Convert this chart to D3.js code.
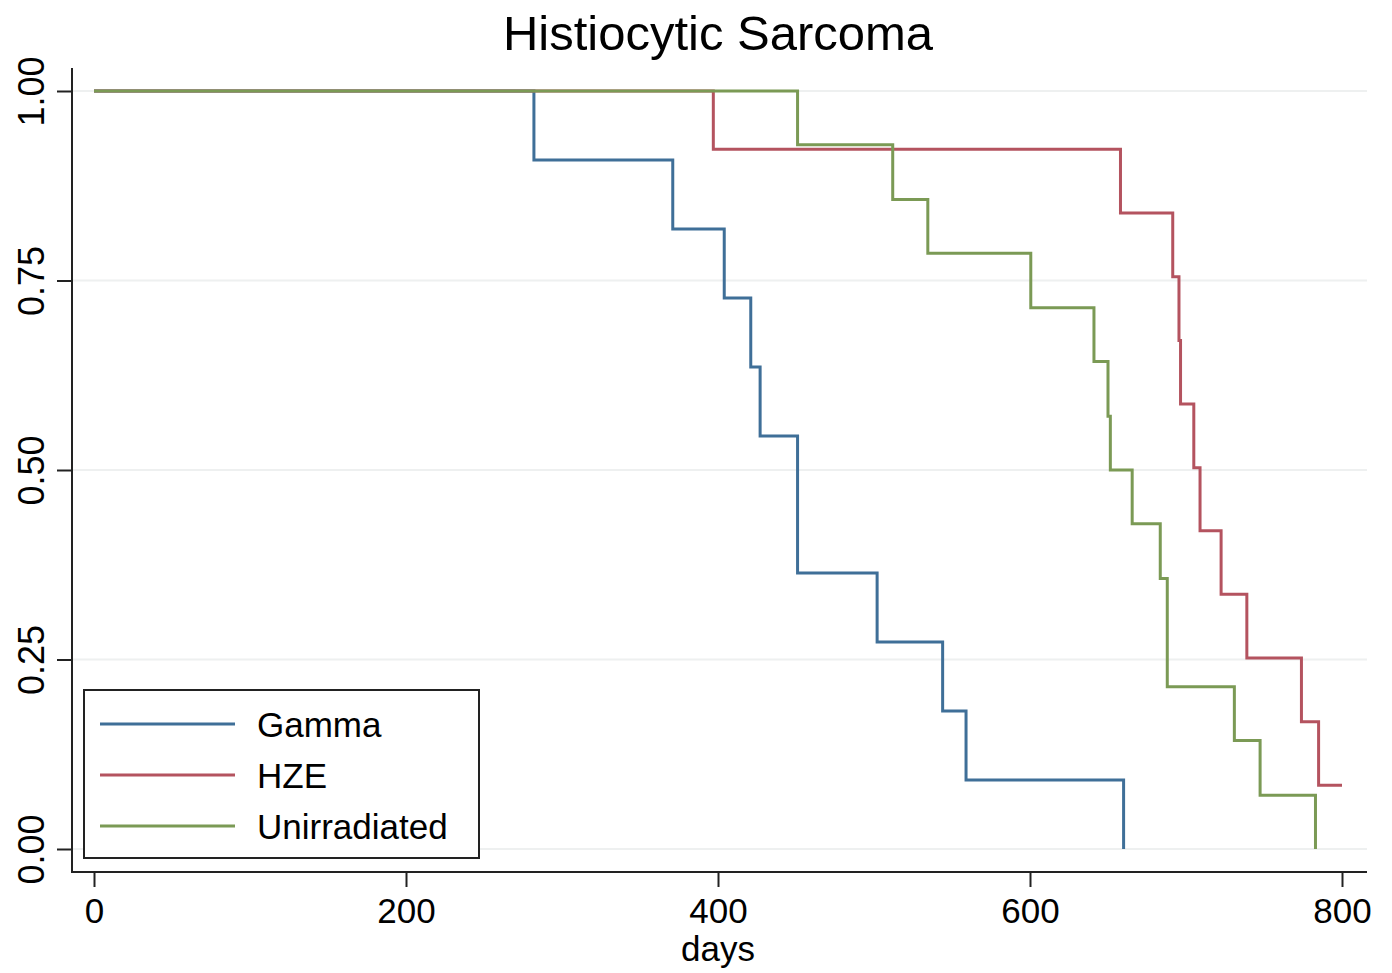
<!DOCTYPE html>
<html>
<head>
<meta charset="utf-8">
<script src="https://cdn.jsdelivr.net/npm/d3@7"></script>
<style>
  body { margin: 0; background: #fff; }
  svg text { font-family: "Liberation Sans", Arial, Helvetica, sans-serif; fill: #000; }
</style>
</head>
<body>
<div id="chart"></div>
<script>
// Kaplan-Meier step values (days, survival)
const gammaDays = [0, 282, 371, 404, 421, 427, 451, 502, 544, 559, 660];
const gammaSurv = [1, 0.909, 0.818, 0.727, 0.636, 0.545, 0.364, 0.273, 0.182, 0.091, 0];

const hzeDays = [0, 397, 658, 691.5, 695.5, 696.5, 705, 709, 722.5, 739, 774, 785, 800];
const hzeSurv = [1, 0.923, 0.839, 0.755, 0.671, 0.587, 0.503, 0.420, 0.336, 0.252, 0.168, 0.084, 0.084];

const unirrDays = [0, 451, 512, 534.5, 600.5, 641, 650, 651.5, 665.5, 683.5, 688, 731, 747.5, 783];
const unirrSurv = [1, 0.929, 0.857, 0.786, 0.714, 0.643, 0.571, 0.5, 0.429, 0.357, 0.214, 0.143, 0.071, 0];

const seriesNames = ['Gamma', 'HZE', 'Unirradiated'];
const seriesColors = ['#3f6f98', '#b4535f', '#7b9a55'];

const xTicks = [0, 200, 400, 600, 800];
const yTicks = [0, 0.25, 0.5, 0.75, 1];

const width = 1392, height = 973;

const series = [
  gammaDays.map((d, i) => [d, gammaSurv[i]]),
  hzeDays.map((d, i) => [d, hzeSurv[i]]),
  unirrDays.map((d, i) => [d, unirrSurv[i]])
];

const x = d3.scaleLinear().domain([0, 800]).range([94, 1342]);
const y = d3.scaleLinear().domain([0, 1]).range([849, 91]);

const axisX = 72, axisY = 872;

const svg = d3.select('#chart').append('svg')
  .attr('width', width)
  .attr('height', height);

// light horizontal grid
svg.append('g')
  .selectAll('line')
  .data(yTicks)
  .enter()
  .append('line')
  .attr('x1', axisX)
  .attr('x2', 1367)
  .attr('y1', d => y(d))
  .attr('y2', d => y(d))
  .attr('stroke', '#eef0f0')
  .attr('stroke-width', 2);

// survival curves
const line = d3.line()
  .x(d => x(d[0]))
  .y(d => y(d[1]))
  .curve(d3.curveStepAfter);

svg.append('g')
  .selectAll('path')
  .data(series)
  .enter()
  .append('path')
  .attr('d', line)
  .attr('fill', 'none')
  .attr('stroke', (d, i) => seriesColors[i])
  .attr('stroke-width', 3);

// axes
const yAxis = d3.axisLeft(y).tickValues(yTicks).tickSize(15).tickFormat(d3.format('.2f'));
const xAxis = d3.axisBottom(x).tickValues(xTicks).tickSize(15).tickFormat(d => d.toString());

const gy = svg.append('g')
  .attr('transform', `translate(${axisX},0)`)
  .call(yAxis);
gy.select('.domain').remove();
gy.selectAll('.tick line').attr('stroke', '#222').attr('stroke-width', 2);
gy.selectAll('.tick text')
  .attr('x', null).attr('dy', null)
  .attr('transform', 'translate(-28,0) rotate(-90)')
  .attr('text-anchor', 'middle')
  .style('font-size', '36px');

const gx = svg.append('g')
  .attr('transform', `translate(0,${axisY})`)
  .call(xAxis);
gx.select('.domain').remove();
gx.selectAll('.tick line').attr('stroke', '#222').attr('stroke-width', 2);
gx.selectAll('.tick text')
  .attr('y', 51).attr('dy', null)
  .style('font-size', '35px');

svg.append('line')
  .attr('x1', axisX).attr('x2', axisX)
  .attr('y1', 68).attr('y2', axisY + 1)
  .attr('stroke', '#222').attr('stroke-width', 2);
svg.append('line')
  .attr('x1', axisX - 1).attr('x2', 1367)
  .attr('y1', axisY).attr('y2', axisY)
  .attr('stroke', '#222').attr('stroke-width', 2);

// titles
svg.append('text')
  .attr('x', 718).attr('y', 50)
  .attr('text-anchor', 'middle')
  .style('font-size', '49px')
  .text('Histiocytic Sarcoma');

svg.append('text')
  .attr('x', 718).attr('y', 961)
  .attr('text-anchor', 'middle')
  .style('font-size', '35px')
  .text('days');

// legend
const legend = svg.append('g');
legend.append('rect')
  .attr('x', 84).attr('y', 690)
  .attr('width', 395).attr('height', 168)
  .attr('fill', '#fff')
  .attr('stroke', '#222')
  .attr('stroke-width', 2);

const item = legend.selectAll('.item')
  .data(seriesNames)
  .enter()
  .append('g')
  .attr('class', 'item')
  .attr('transform', (d, i) => `translate(0,${724 + i * 51})`);

item.append('line')
  .attr('x1', 100).attr('x2', 235)
  .attr('stroke', (d, i) => seriesColors[i])
  .attr('stroke-width', 3);

item.append('text')
  .attr('x', 257).attr('y', 13)
  .style('font-size', '35px')
  .text(d => d);
</script>
</body>
</html>
